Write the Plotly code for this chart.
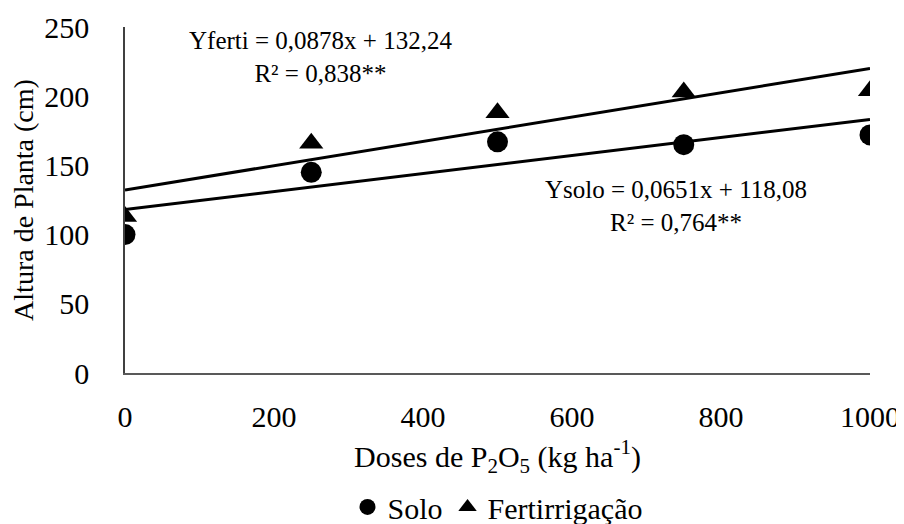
import plotly.graph_objects as go

doses = [0, 250, 500, 750, 1000]
solo = [100, 145, 167, 165, 172]
ferti = [113, 166, 188, 203, 204]
x_ticks = [0, 200, 400, 600, 800, 1000]
y_ticks = [0, 50, 100, 150, 200, 250]

trend_x = [0, 1000]
solo_coef = (0.0651, 118.08)
ferti_coef = (0.0878, 132.24)

FONT = "Times New Roman, Liberation Serif, serif"

fig = go.Figure()
fig.add_trace(go.Scatter(x=trend_x, y=[ferti_coef[1] + ferti_coef[0] * v for v in trend_x],
                         mode="lines", line=dict(color="black", width=3), showlegend=False, hoverinfo="skip"))
fig.add_trace(go.Scatter(x=trend_x, y=[solo_coef[1] + solo_coef[0] * v for v in trend_x],
                         mode="lines", line=dict(color="black", width=3), showlegend=False, hoverinfo="skip"))
fig.add_trace(go.Scatter(x=doses, y=solo, mode="markers", name="Solo",
                         marker=dict(symbol="circle", size=21, color="black")))
fig.add_trace(go.Scatter(x=doses, y=ferti, mode="markers", name="Fertirrigação",
                         marker=dict(symbol="triangle-up", size=21, color="black")))

fig.add_annotation(x=263, y=228, xref="x", yref="y", showarrow=False,
                   text="Yferti = 0,0878x + 132,24<br>R² = 0,838**",
                   font=dict(family=FONT, size=25, color="black"), align="center")
fig.add_annotation(x=740, y=121, xref="x", yref="y", showarrow=False,
                   text="Ysolo = 0,0651x + 118,08<br>R² = 0,764**",
                   font=dict(family=FONT, size=25, color="black"), align="center")

fig.update_layout(
    width=896, height=516,
    margin=dict(l=117, r=34, t=19, b=151, autoexpand=False),
    paper_bgcolor="white", plot_bgcolor="white",
    font=dict(family=FONT, size=28, color="black"),
    showlegend=True,
    legend=dict(orientation="h", x=0.5, xanchor="center", y=-0.387, yanchor="middle",
                font=dict(family=FONT, size=30, color="black"), itemwidth=30,
                tracegroupgap=0),
    xaxis=dict(range=[0, 1000], tickvals=x_ticks, showgrid=False, zeroline=False,
               showline=True, linecolor="#595959", linewidth=2, ticks="",
               ticklabelstandoff=16, automargin=False,
               title=dict(text="Doses de P<sub>2</sub>O<sub>5</sub> (kg ha<sup>-1</sup>)",
                          standoff=14, font=dict(family=FONT, size=30)),
               tickfont=dict(family=FONT, size=30)),
    yaxis=dict(range=[0, 250], tickvals=y_ticks, showgrid=False, zeroline=False,
               showline=True, linecolor="#404040", linewidth=1.5, ticks="",
               ticklabelstandoff=28, automargin=False,
               title=dict(text="Altura de Planta (cm)", standoff=12, font=dict(family=FONT, size=28)),
               tickfont=dict(family=FONT, size=30)),
)

fig.write_html("out.html")
